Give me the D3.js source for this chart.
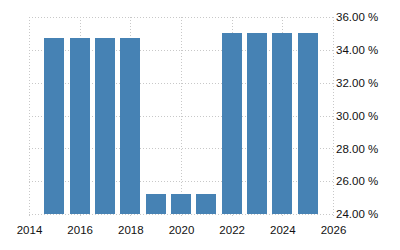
<!DOCTYPE html>
<html>
<head>
<meta charset="utf-8">
<script src="https://cdn.jsdelivr.net/npm/d3@7"></script>
<style>
  html, body { margin: 0; padding: 0; background: #fff; }
  svg { display: block; }
</style>
</head>
<body>
<div id="chart"></div>
<script>
// Data
const years = [2015, 2016, 2017, 2018, 2019, 2020, 2021, 2022, 2023, 2024, 2025];
const rates = [34.7, 34.7, 34.7, 34.7, 25.2, 25.2, 25.2, 35, 35, 35, 35];
const xTicks = [2014, 2016, 2018, 2020, 2022, 2024, 2026];
const yTicks = [24, 26, 28, 30, 32, 34, 36];

const W = 400, H = 250;
const margin = { top: 17, right: 67, bottom: 36, left: 29 };
const width = W - margin.left - margin.right;
const height = H - margin.top - margin.bottom;

const svg = d3.select('#chart').append('svg')
  .attr('width', W)
  .attr('height', H);

const g = svg.append('g')
  .attr('transform', `translate(${margin.left},${margin.top})`);

const x = d3.scaleLinear().domain([2014, 2026]).range([0, width]);
const y = d3.scaleLinear().domain([24, 36]).range([height, 0]);

// Grid
g.append('g')
  .selectAll('line')
  .data(yTicks)
  .join('line')
  .attr('x1', 0).attr('x2', width)
  .attr('y1', d => Math.round(y(d)) + 0.5)
  .attr('y2', d => Math.round(y(d)) + 0.5)
  .attr('stroke', '#c8c8c8')
  .attr('stroke-dasharray', '1,2');

g.append('g')
  .selectAll('line')
  .data(xTicks)
  .join('line')
  .attr('x1', d => Math.round(x(d)) + 0.5)
  .attr('x2', d => Math.round(x(d)) + 0.5)
  .attr('y1', 0).attr('y2', height + 3)
  .attr('stroke', '#c8c8c8')
  .attr('stroke-dasharray', '1,2');

// Bars
const barW = 20;
g.selectAll('rect.bar')
  .data(years.map((yr, i) => ({ yr, v: rates[i] })))
  .join('rect')
  .attr('class', 'bar')
  .attr('x', d => Math.round(x(d.yr) - barW / 2))
  .attr('y', d => Math.round(y(d.v)))
  .attr('width', barW)
  .attr('height', d => Math.round(height - y(d.v)))
  .attr('fill', '#4682b4');

// Right axis labels
const yAxis = g.append('g')
  .attr('transform', `translate(${width},0)`)
  .call(d3.axisRight(y).tickValues(yTicks).tickSize(0).tickPadding(3)
    .tickFormat(d => d.toFixed(2) + ' %'));
yAxis.select('.domain').remove();
yAxis.selectAll('text')
  .attr('font-family', '"Liberation Sans", Arial, sans-serif')
  .attr('font-size', '11.5px')
  .attr('fill', '#111');

// Bottom axis labels
const xAxis = g.append('g')
  .attr('transform', `translate(0,${height})`)
  .call(d3.axisBottom(x).tickValues(xTicks).tickSize(0).tickPadding(12)
    .tickFormat(d3.format('d')));
xAxis.select('.domain').remove();
xAxis.selectAll('text')
  .attr('font-family', '"Liberation Sans", Arial, sans-serif')
  .attr('font-size', '11.5px')
  .attr('fill', '#111');
</script>
</body>
</html>
